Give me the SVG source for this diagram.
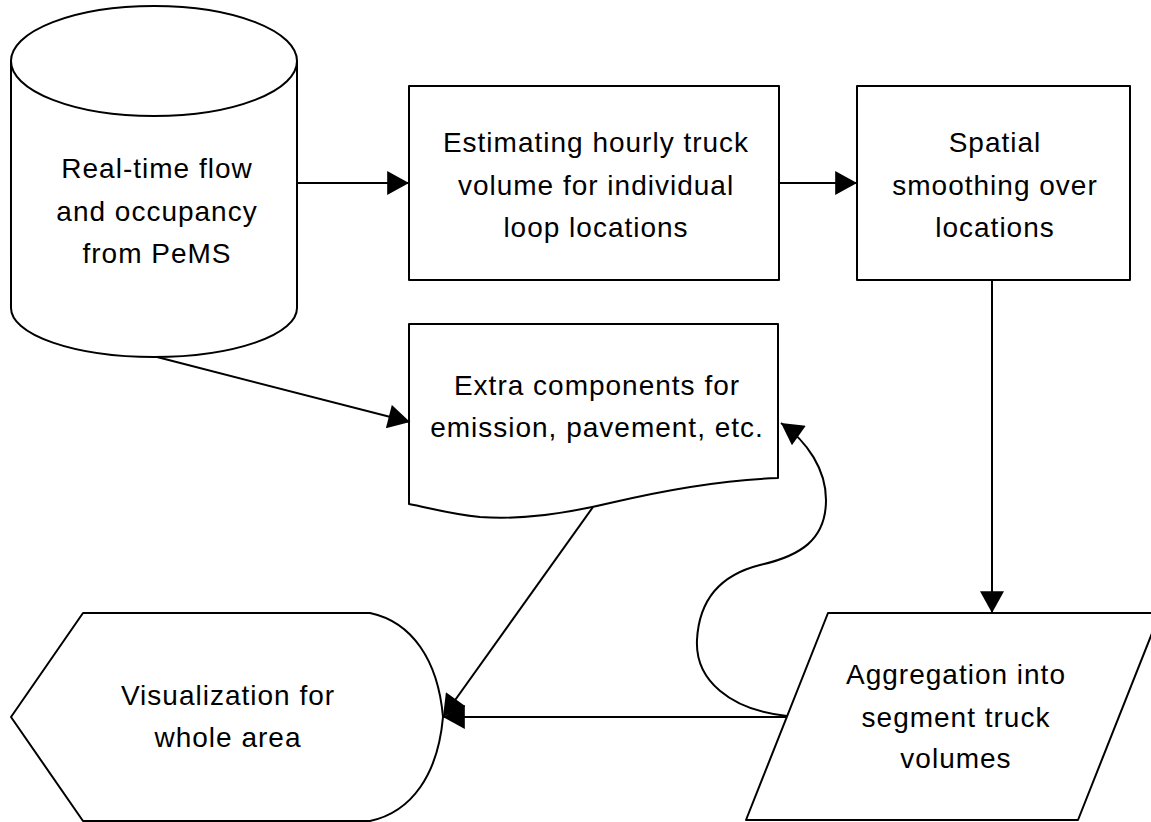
<svg xmlns="http://www.w3.org/2000/svg" width="1151" height="822" viewBox="0 0 1151 822">
<defs>
<style>
.s{fill:#fff;stroke:#000;stroke-width:2;stroke-linejoin:round}
.c{fill:none;stroke:#000;stroke-width:2}
.t{font-family:"Liberation Sans",Arial,sans-serif;font-size:28px;fill:#000;text-anchor:middle;letter-spacing:1px}
</style>
<marker id="ah" markerUnits="userSpaceOnUse" markerWidth="24" markerHeight="24" viewBox="0 0 20 22" refX="20" refY="11" orient="auto">
<path d="M0,0 L20,11 L0,22 Z" fill="#000"/>
</marker>
</defs>
<rect width="1151" height="822" fill="#fff"/>
<g id="n1">
<path class="s" d="M11,61 A143,55 0 0 1 297,61 L297,308 A143,49 0 0 1 11,308 Z"/>
<path class="c" d="M11,61 A143,55 0 0 0 297,61"/>
<text class="t" x="157" y="178">Real-time flow</text>
<text class="t" x="157" y="221">and occupancy</text>
<text class="t" x="157" y="263">from PeMS</text>
</g>
<g id="n2">
<rect class="s" x="409" y="86" width="370" height="194"/>
<text class="t" x="596" y="152">Estimating hourly truck</text>
<text class="t" x="596" y="195">volume for individual</text>
<text class="t" x="596" y="237">loop locations</text>
</g>
<g id="n3">
<rect class="s" x="857" y="86" width="273" height="194"/>
<text class="t" x="995" y="152">Spatial</text>
<text class="t" x="995" y="195">smoothing over</text>
<text class="t" x="995" y="237">locations</text>
</g>
<g id="n4">
<path class="s" d="M409,324 L778,324 L778,478 C720,480 665,490 610,503 C560,515 520,520 480,517 C450,514 430,508 409,504 Z"/>
<text class="t" x="597" y="395">Extra components for</text>
<text class="t" x="597" y="437">emission, pavement, etc.</text>
</g>
<g id="n5">
<path class="s" d="M828,613 L1160,613 L1078,820 L746,820 Z"/>
<text class="t" x="956" y="684">Aggregation into</text>
<text class="t" x="956" y="727">segment truck</text>
<text class="t" x="956" y="768">volumes</text>
</g>
<g id="n6">
<path class="s" d="M11,717 L83,613 L370,613 C412,622 438,660 443,717 C438,774 412,812 370,821 L83,821 Z"/>
<text class="t" x="228" y="705">Visualization for</text>
<text class="t" x="228" y="747">whole area</text>
</g>
<g id="connectors">
<path class="c" d="M297,183 L409,183" marker-end="url(#ah)"/>
<path class="c" d="M779,183 L857,183" marker-end="url(#ah)"/>
<path class="c" d="M992,280 L992,613" marker-end="url(#ah)"/>
<path class="c" d="M157,357 L410,422" marker-end="url(#ah)"/>
<path class="c" d="M593,507 L443,717" marker-end="url(#ah)"/>
<path class="c" d="M787,717 L443,717" marker-end="url(#ah)"/>
<path class="c" d="M787,716 C730,710 695,680 697,640 C699,600 720,575 760,565 C800,556 826,540 826,500 C826,470 808,442 781,423" marker-end="url(#ah)"/>
</g>
</svg>
